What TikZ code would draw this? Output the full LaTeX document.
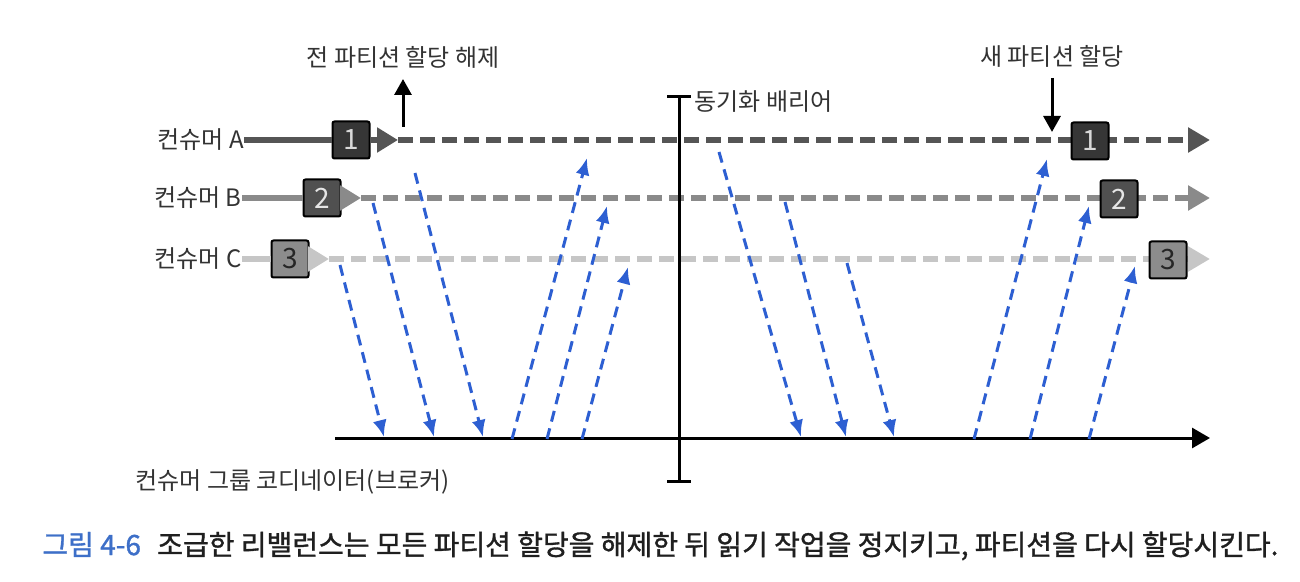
\documentclass[tikz,border=0pt]{standalone}
\usepackage{fontspec}
\setmainfont{Noto Sans CJK KR}
\newfontfamily\capfont[FakeBold=1.2]{Noto Sans CJK KR}
\usetikzlibrary{arrows.meta,positioning}

\definecolor{lineA}{HTML}{555555}
\definecolor{lineB}{HTML}{8A8A8A}
\definecolor{lineC}{HTML}{C6C6C6}
\definecolor{boxA}{HTML}{363636}
\definecolor{boxB}{HTML}{505050}
\definecolor{boxC}{HTML}{8C8C8C}
\definecolor{arrblue}{HTML}{2D5FD2}
\definecolor{capblue}{HTML}{3D6FC8}
\definecolor{txt}{HTML}{333333}

\begin{document}
\begin{tikzpicture}[x=0.5pt,y=-0.5pt,
  lbl/.style={font=\fontsize{12}{14}\selectfont, text=txt, inner sep=0pt},
  part/.style={draw=black, line width=1pt, rounded corners=1pt, minimum size=18.5pt, inner sep=0pt, font=\fontsize{14}{14}\selectfont},
  solidline/.style={line width=3pt},
  headline/.style={line width=3pt, -{Triangle[length=10.5pt,width=12pt]}},
  dashline/.style={line width=3pt, dash pattern=on 7.5pt off 3.5pt, -{Triangle[length=11pt,width=12pt]}},
  fetch/.style={arrblue, line width=1.5pt, dash pattern=on 5.5pt off 3.5pt, -{Latex[length=8.5pt,width=7pt]}},
  blk/.style={line width=1.5pt, -{Triangle[length=8pt,width=8.5pt]}}]
\useasboundingbox[fill=white] (0,0) rectangle (1300,582);

\coordinate (aHead) at (398,140);
\coordinate (aEnd) at (1210,140);
\coordinate (bHead) at (361,198);
\coordinate (bEnd) at (1210,198);
\coordinate (cHead) at (329,259);
\coordinate (cEnd) at (1210,259);

% consumer A
\node[lbl, anchor=east] (labA) at (244,140) {컨슈머 A};
\node[part, fill=boxA, text=white!85!black] (oldA) at (351,140) {1};
\draw[solidline, lineA] (labA.east) -- (oldA.west);
\draw[headline, lineA] (oldA.east) -- (aHead);
\draw[dashline, lineA] (aHead) -- (aEnd);
\node[part, fill=boxA, text=white!85!black] (newA) at (1090,141) {1};

% consumer B
\node[lbl, anchor=east] (labB) at (242,198) {컨슈머 B};
\node[part, fill=boxB, text=white!90!black] (oldB) at (322,198) {2};
\draw[solidline, lineB] (labB.east) -- (oldB.west);
\draw[headline, lineB] (oldB.east) -- (bHead);
\draw[dashline, lineB] (bHead) -- (bEnd);
\node[part, fill=boxB, text=white!90!black] (newB) at (1119,199) {2};

% consumer C
\node[lbl, anchor=east] (labC) at (242,259) {컨슈머 C};
\node[part, fill=boxC, text=black!85] (oldC) at (290,259) {3};
\draw[solidline, lineC] (labC.east) -- (oldC.west);
\draw[headline, lineC] (oldC.east) -- (cHead);
\draw[dashline, lineC] (cHead) -- (cEnd);
\node[part, fill=boxC, text=black!85] (newC) at (1168,260) {3};

% revoke / assign
\coordinate (upFrom) at (403,127);
\coordinate (upTo) at (403,79);
\draw[blk] (upFrom) -- (upTo);
\node[lbl, above=5pt of upTo] (revoke) {전 파티션 할당 해제};
\coordinate (dnFrom) at (1052,78);
\coordinate (dnTo) at (1052,132);
\draw[blk] (dnFrom) -- (dnTo);
\node[lbl, above=5pt of dnFrom] (assign) {새 파티션 할당};

% barrier and coordinator
\coordinate (barTop) at (679,97);
\coordinate (barBot) at (679,481);
\draw[line width=1.5pt] (barTop) -- (barBot)
  ([xshift=-6pt]barTop) -- ([xshift=6pt]barTop)
  ([xshift=-6pt]barBot) -- ([xshift=6pt]barBot);
\node[lbl, anchor=west] (barrier) at (694,102) {동기화 배리어};

\coordinate (tlStart) at (335,438);
\coordinate (tlEnd) at (1210,438);
\draw[line width=1.5pt, -{Triangle[length=9pt,width=10pt]}] (tlStart) -- (tlEnd);
\node[lbl, anchor=west] (coord) at (135,482) {컨슈머 그룹 코디네이터(브로커)};

\foreach \i/\sx/\sy/\ex/\ey in {
  1/340/265/384/437, 2/373/203/434/437, 3/415/173/483/437,
  4/512/439/587/158, 5/547/439/607/206, 6/582/439/628/267,
  7/719/152/801/437, 8/785/202/846/437, 9/847/263/894/437,
  10/974/439/1047/159, 11/1030/439/1089/206, 12/1089/439/1135/266}{
  \coordinate (s\i) at (\sx,\sy);
  \coordinate (e\i) at (\ex,\ey);
  \draw[fetch] (s\i) -- (e\i);
}

\node[anchor=west, inner sep=0pt, font=\capfont\fontsize{14}{16}\selectfont, text=black!88] (caption) at (42,546)
  {{\color{capblue}그림 4-6}\hspace{5pt} 조급한 리밸런스는 모든 파티션 할당을 해제한 뒤 읽기 작업을 정지키고, 파티션을 다시 할당시킨다.};
\end{tikzpicture}
\end{document}
